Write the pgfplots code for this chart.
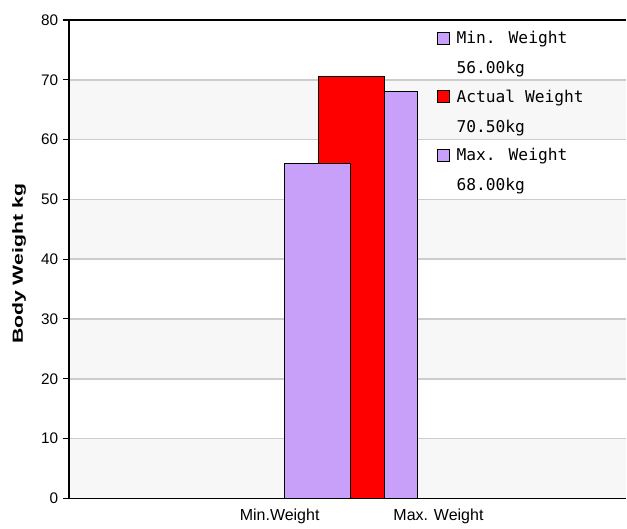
\documentclass[border=0pt]{standalone}
\usepackage{fontspec}
\setmainfont{Liberation Sans}
\newfontfamily\legfont{DejaVu Sans Mono}
\usepackage{graphicx}
\usepackage{pgfplots}
\pgfplotsset{compat=1.18}

\definecolor{barpurple}{RGB}{200,160,250}
\definecolor{band}{RGB}{247,247,247}
\definecolor{gridgray}{RGB}{204,204,204}

\begin{document}
\begin{tikzpicture}
  \begin{axis}[
    name=ax, set layers,
    scale only axis, width=418.5pt, height=359.25pt,
    xmin=69, xmax=627, ymin=0, ymax=80,
    axis x line*=box, axis y line*=left,
    axis line style={line width=1pt},
    ytick={0,10,...,80},
    ymajorgrids, major grid style={gridgray, line width=1.2pt},
    ytick style={black, line width=0.8pt},
    tick align=outside, major tick length=4.5pt,
    xtick={280,439}, xticklabels={Min.Weight, Max. Weight},
    xtick style={draw=none},
    tick label style={font=\fontsize{11.5}{13}\selectfont},
    xticklabel style={font=\fontsize{12}{13}\selectfont},
    /pgf/number format/assume math mode=true,
    ylabel={\scalebox{1.45}[1]{\bfseries Body Weight kg}},
    ylabel style={font=\fontsize{11}{13}\selectfont, at={(ticklabel cs:0.49)}, yshift=4.5pt},
    reverse legend,
    legend cell align=left,
    legend style={draw=none, fill=none, at={(0.6595,0.983)}, anchor=north west,
      font=\legfont\fontsize{12.2}{22.5}\selectfont, cells={align=left},
      row sep=6.75pt, inner sep=0pt},
    legend image code/.code={
      \draw[#1, line width=0.8pt] (0pt,6.75pt) rectangle (9pt,15.75pt);
      \path[draw=none, fill=none] (0pt,8pt) -- (12.5pt,8pt);},
  ]
    \begin{pgfonlayer}{axis background}
      \fill[band] (axis cs:69,0) rectangle (axis cs:627,10);
      \fill[band] (axis cs:69,20) rectangle (axis cs:627,30);
      \fill[band] (axis cs:69,40) rectangle (axis cs:627,50);
      \fill[band] (axis cs:69,60) rectangle (axis cs:627,70);
    \end{pgfonlayer}

    \addplot[ybar, bar width=66, bar shift=0pt, fill=barpurple, draw=black, line width=0.8pt]
      coordinates {(385,68)};
    \addlegendentry{Max. Weight\\68.00kg}
    \addplot[ybar, bar width=66, bar shift=0pt, fill=red, draw=black, line width=0.8pt]
      coordinates {(352,70.5)};
    \addlegendentry{Actual Weight\\70.50kg}
    \addplot[ybar, bar width=66, bar shift=0pt, fill=barpurple, draw=black, line width=0.8pt]
      coordinates {(318,56)};
    \addlegendentry{Min. Weight\\56.00kg}
  \end{axis}
  \path ([xshift=-51.75pt,yshift=-19.5pt]ax.south west) rectangle ([yshift=15pt]ax.north east);
\end{tikzpicture}
\end{document}
